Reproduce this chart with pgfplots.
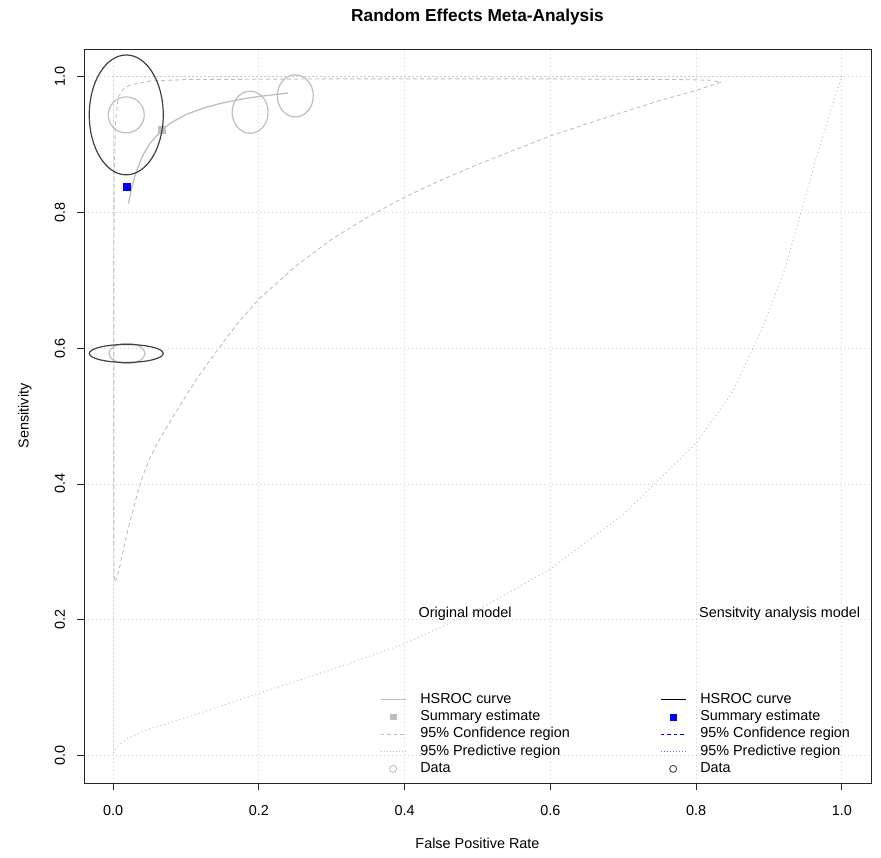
\documentclass[border=0pt]{standalone}
\usepackage{fontspec}
\setmainfont{Liberation Sans}
\usepackage{pgfplots}
\pgfplotsset{compat=1.18}
\definecolor{rgray}{HTML}{BEBEBE}
\definecolor{lgray}{HTML}{D3D3D3}
\definecolor{dgray}{HTML}{404040}
\definecolor{lblue}{HTML}{6A6AFF}
\newcommand{\rf}{\fontsize{14.4}{17}\selectfont}
\pgfplotsset{
 linelegend/.style={legend image code/.code={\draw[##1] (0pt,0pt) -- (25pt,0pt);}},
 marklegend/.style={legend image code/.code={\draw[##1] plot coordinates {(12.5pt,0pt)};}},
 base/.style={width=787pt,height=734pt,scale only axis,
   xmin=-0.04,xmax=1.04,ymin=-0.04,ymax=1.04},
 mylegend/.style={legend cell align=left,
   legend style={at={(axis description cs:#1,0.1253)}, anchor=north west,
   draw=none, fill=none, inner sep=0pt, outer sep=0pt, column sep=14pt, row sep=0pt,
   font=\rf, nodes={inner xsep=0pt, inner ysep=1.5pt, text height=10.8pt, text depth=3.5pt}}},
}
\begin{document}
\begin{tikzpicture}
\begin{axis}[base, mylegend=0.3761,
 /pgf/number format/assume math mode=true,
 axis line style={black!85, line width=0.9pt},
 xtick={0,0.2,0.4,0.6,0.8,1}, ytick={0,0.2,0.4,0.6,0.8,1},
 xticklabels={0.0,0.2,0.4,0.6,0.8,1.0}, yticklabels={0.0,0.2,0.4,0.6,0.8,1.0},
 tick align=outside, xtick pos=lower, ytick pos=left, major tick length=7pt,
 tick style={black!85, line width=0.9pt},
 grid=major, grid style={lgray, line width=0.8pt, dash pattern=on 1pt off 3pt},
 ticklabel style={font=\rf},
 xticklabel style={anchor=center, yshift=-21pt},
 yticklabel style={xshift=-17pt, rotate=90, anchor=center},
 title={Random Effects Meta-Analysis},
 title style={at={(axis description cs:0.5,1.0354)}, anchor=center, font=\fontsize{17.28}{20}\selectfont\bfseries},
 xlabel={False Positive Rate},
 xlabel style={at={(axis description cs:0.5,-0.0817)}, anchor=center, font=\rf},
 ylabel={Sensitivity},
 ylabel style={at={(axis description cs:-0.0750,0.5)}, anchor=center, font=\rf},
]
% predictive region (original)
\addplot[forget plot, rgray, line width=0.9pt, dash pattern=on 1pt off 3pt] coordinates {
(0.0005,0.004)(0.005,0.013)(0.02,0.026)(0.051,0.040)(0.1,0.056)(0.2,0.092)(0.3,0.127)
(0.4,0.165)(0.5,0.214)(0.6,0.275)(0.7,0.355)(0.8,0.460)(0.85,0.535)(0.89,0.627)(0.92,0.71)
(0.944,0.80)(0.965,0.88)(0.985,0.95)(0.997,0.99)(1.0,0.9995)(0.6,0.9995)(0.2,0.9995)
(0.0005,0.9995)(0.0005,0.5)(0.0005,0.004)};
% confidence region (original)
\addplot[forget plot, rgray, line width=0.9pt, dash pattern=on 4pt off 3pt] coordinates {
(0.834,0.991)(0.80,0.979)(0.75,0.964)(0.70,0.947)(0.65,0.930)(0.60,0.912)(0.55,0.891)
(0.50,0.870)(0.45,0.847)(0.40,0.822)(0.35,0.793)(0.30,0.760)(0.25,0.720)(0.20,0.672)
(0.17,0.635)(0.15,0.607)(0.13,0.578)(0.117,0.558)(0.10,0.530)(0.08,0.495)(0.065,0.468)
(0.058,0.455)(0.05,0.437)(0.04,0.410)(0.033,0.385)(0.027,0.360)(0.02,0.332)(0.015,0.308)
(0.011,0.288)(0.008,0.273)(0.005,0.262)(0.003,0.256)(0.002,0.256)(0.0012,0.27)(0.001,0.35)
(0.001,0.5)(0.001,0.7)(0.0015,0.85)(0.003,0.93)(0.007,0.969)(0.014,0.981)(0.023,0.987)
(0.051,0.993)(0.10,0.995)(0.3,0.996)(0.6,0.996)(0.78,0.995)(0.82,0.994)(0.834,0.991)};
% HSROC curve (original)
\addplot[forget plot, rgray, line width=1.3pt] coordinates {
(0.021,0.8125)(0.025,0.8337)(0.03,0.854)(0.04,0.882)(0.05,0.9005)(0.067,0.921)(0.08,0.9318)
(0.10,0.9435)(0.125,0.9535)(0.15,0.9606)(0.175,0.966)(0.20,0.9701)(0.24,0.9752)};
% data (original)
\addplot[forget plot, only marks, mark=o, rgray, line width=1.2pt, mark size=18pt] coordinates {(0.018,0.943)};
\addplot[forget plot, only marks, mark=o, rgray, line width=1.2pt, mark size=18pt, mark options={yscale=1.17}] coordinates {(0.188,0.947)(0.250,0.971)};
\addplot[forget plot, only marks, mark=o, rgray, line width=1.2pt, mark size=18pt, mark options={yscale=0.56}] coordinates {(0.019,0.592)};
% summary (original)
\addplot[forget plot, only marks, mark=square*, mark size=3.5pt, rgray] coordinates {(0.067,0.921)};
\addlegendimage{rgray, line width=1.3pt, linelegend}\addlegendentry{HSROC curve}
\addlegendimage{only marks, mark=square*, mark size=2.6pt, rgray, marklegend}\addlegendentry{Summary estimate}
\addlegendimage{rgray, line width=0.9pt, dash pattern=on 3.5pt off 3pt, linelegend}\addlegendentry{95\% Confidence region}
\addlegendimage{rgray, line width=0.9pt, dash pattern=on 1pt off 2pt, linelegend}\addlegendentry{95\% Predictive region}
\addlegendimage{only marks, mark=o, mark size=3.5pt, rgray, line width=0.9pt, marklegend}\addlegendentry{Data}
\node[anchor=west, inner sep=0pt, font=\rf] at (axis cs:0.419,0.209) {Original model};
\node[anchor=west, inner sep=0pt, font=\rf] at (axis cs:0.804,0.209) {Sensitvity analysis model};
\end{axis}
\begin{axis}[base, hide axis, mylegend=0.7319]
\addplot[forget plot, only marks, mark=o, dgray, line width=1.2pt, mark size=37pt, mark options={yscale=1.62}] coordinates {(0.018,0.943)};
\addplot[forget plot, only marks, mark=o, dgray, line width=1.2pt, mark size=37pt, mark options={yscale=0.243}] coordinates {(0.018,0.592)};
\addplot[forget plot, only marks, mark=square*, mark size=3.5pt, blue] coordinates {(0.019,0.838)};
\addlegendimage{black, line width=1.3pt, linelegend}\addlegendentry{HSROC curve}
\addlegendimage{only marks, mark=square*, mark size=2.8pt, blue, marklegend}\addlegendentry{Summary estimate}
\addlegendimage{blue, line width=0.9pt, dash pattern=on 3.5pt off 3pt, linelegend}\addlegendentry{95\% Confidence region}
\addlegendimage{lblue, line width=0.9pt, dash pattern=on 1pt off 2pt, linelegend}\addlegendentry{95\% Predictive region}
\addlegendimage{only marks, mark=o, mark size=3.5pt, dgray, line width=0.9pt, marklegend}\addlegendentry{Data}
\end{axis}
\pgfresetboundingbox
\useasboundingbox (-84pt,-75pt) rectangle (797pt,783pt);
\end{tikzpicture}
\end{document}
